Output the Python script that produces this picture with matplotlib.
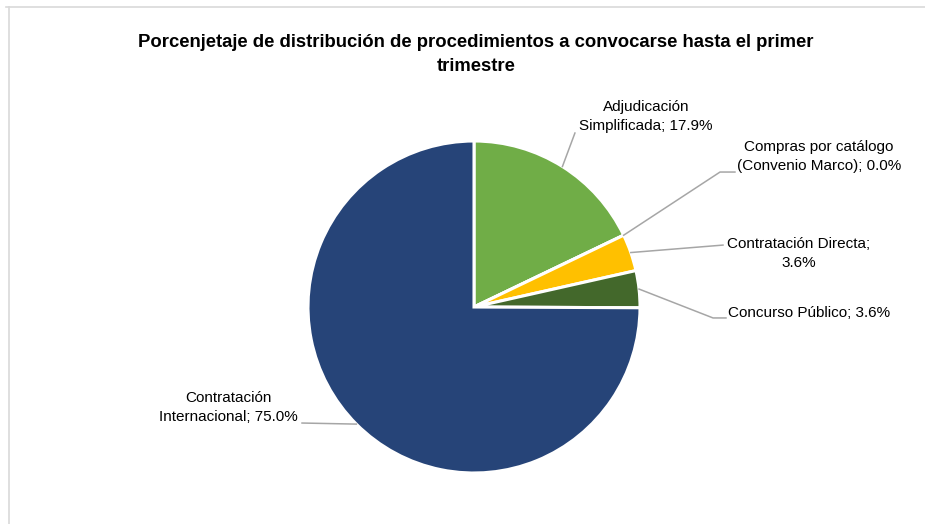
import numpy as np
import matplotlib
matplotlib.use("Agg")
from matplotlib import pyplot as plt
from matplotlib.lines import Line2D

# datos
categorias = ['Adjudicación Simplificada', 'Compras por catálogo (Convenio Marco)',
              'Contratación Directa', 'Concurso Público', 'Contratación Internacional']
porcentajes = [17.9, 0.0, 3.6, 3.6, 75.0]
colores = ['#70AD47', '#5B9BD5', '#FFC000', '#43682B', '#264478']

textos = ['Adjudicación\nSimplificada; 17.9%',
          'Compras por catálogo\n(Convenio Marco); 0.0%',
          'Contratación Directa;\n3.6%',
          'Concurso Público; 3.6%',
          'Contratación\nInternacional; 75.0%']

# posicion de etiquetas (coordenadas del pie, radio=1)
pos_texto = [(1.036, 1.145), (2.078, 0.904), (1.958, 0.325), (2.018, -0.036), (-1.482, -0.608)]
codo = [None, (1.482, 0.813), None, (1.44, -0.066), None]
fin = [(0.608, 1.048), (1.572, 0.813), (1.50, 0.373), (1.518, -0.066), (-1.036, -0.699)]

fuente = ['Liberation Sans Narrow', 'Liberation Sans', 'DejaVu Sans']

W, H = 925, 524
fig = plt.figure(figsize=(W / 100, H / 100), dpi=100)

cx, cy, r = 474, 307, 166
ax = fig.add_axes([(cx - r) / W, 1 - (cy + r) / H, 2 * r / W, 2 * r / H])

wedges, _ = ax.pie(porcentajes, colors=colores, startangle=90, counterclock=False,
                   radius=1, wedgeprops=dict(edgecolor='white', linewidth=2.2))
ax.set_xlim(-1, 1)
ax.set_ylim(-1, 1)
ax.set_aspect('equal')
ax.axis('off')

gris = '#A6A6A6'
for i, w in enumerate(wedges):
    ang = np.deg2rad((w.theta1 + w.theta2) / 2)
    p0 = (np.cos(ang), np.sin(ang))
    pts = [p0]
    if codo[i] is not None:
        pts.append(codo[i])
    pts.append(fin[i])
    xs, ys = zip(*pts)
    ax.add_line(Line2D(xs, ys, color=gris, lw=1.1, clip_on=False))
    ax.text(pos_texto[i][0], pos_texto[i][1], textos[i], ha='center', va='center',
            fontsize=11, family=fuente, color='#000000', linespacing=1.45, clip_on=False)

fig.text(476 / W, 1 - 54.5 / H,
         'Porcenjetaje de distribución de procedimientos a convocarse hasta el primer\ntrimestre',
         ha='center', va='center', fontsize=13.3, fontweight='bold', family=fuente,
         linespacing=1.6)

# borde del grafico
borde = '#D9D9D9'
fig.add_artist(Line2D([6 / W, 1], [1 - 7 / H, 1 - 7 / H], color=borde, lw=1.2,
                      transform=fig.transFigure))
fig.add_artist(Line2D([8.5 / W, 8.5 / W], [0, 1 - 7 / H], color=borde, lw=1.2,
                      transform=fig.transFigure))

fig.savefig('out.png', dpi=100, facecolor='white')
